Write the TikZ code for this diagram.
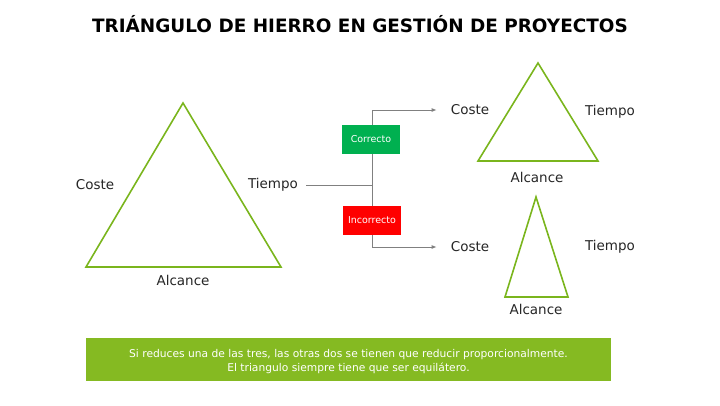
\documentclass[tikz,border=0pt]{standalone}
\usepackage{fontspec}
\setmainfont{DejaVu Sans}
\usetikzlibrary{arrows.meta}
\definecolor{trigreen}{HTML}{7AB51D}
\definecolor{bargreen}{HTML}{85BA22}
\definecolor{okgreen}{HTML}{00B050}
\definecolor{badred}{HTML}{FF0000}
\tikzset{
  tri/.style={draw=trigreen, line width=1.6pt, line join=miter},
  lbl/.style={text=black!85, font=\fontsize{13.5}{15}\selectfont, inner sep=0pt},
  link/.style={draw=gray, line width=0.9pt},
  flag/.style={text=white, font=\fontsize{9.5}{11}\selectfont, minimum width=58pt, minimum height=29pt, inner sep=0pt},
}

\begin{document}
\begin{tikzpicture}[x=1pt, y=-1pt]
    \useasboundingbox (0,0) rectangle (720,405);

    % coordinates to be reused
    \coordinate (A) at (183,103);
    \coordinate (B) at (86,267);
    \coordinate (C) at (281,267);
    \coordinate (A1) at (538,63);
    \coordinate (B1) at (478,161);
    \coordinate (C1) at (598,161);
    \coordinate (A2) at (536,197);
    \coordinate (B2) at (505,297);
    \coordinate (C2) at (568,297);
    \coordinate (J) at (372,185);
    \coordinate (Jup) at (372,110);
    \coordinate (Jdown) at (372,247);

    % title
    \node [font=\bfseries\fontsize{18.4}{20}\selectfont] (title) at (360,24) {TRIÁNGULO DE HIERRO EN GESTIÓN DE PROYECTOS};

    % draw triangles
    \draw [tri] (A) -- (B) -- (C) -- cycle;
    \draw [tri] (A1) -- (B1) -- (C1) -- cycle;
    \draw [tri] (A2) -- (B2) -- (C2) -- cycle;

    % add labels
    \node [lbl] (coste) at (95,185) {Coste};
    \node [lbl] (tiempo) at (273,185) {Tiempo};
    \node [lbl] (alcance) at (183,280) {Alcance};
    \node [lbl] (coste1) at (470,110) {Coste};
    \node [lbl] (tiempo1) at (610,112) {Tiempo};
    \node [lbl] (alcance1) at (537,177) {Alcance};
    \node [lbl] (coste2) at (470,247) {Coste};
    \node [lbl] (tiempo2) at (610,247) {Tiempo};
    \node [lbl] (alcance2) at (536,309) {Alcance};

    % connectors
    \draw [link] ([xshift=8pt]tiempo.east) -- (J);
    \draw [link] (Jdown) -- (Jup);
    \draw [link, -{Latex[length=5pt,width=4pt]}] (Jup) -- ([xshift=-14pt]coste1.west);
    \draw [link, -{Latex[length=5pt,width=4pt]}] (Jdown) -- ([xshift=-14pt]coste2.west);

    % boxes on the line
    \node [flag, fill=okgreen] (ok) at (371,139) {Correcto};
    \node [flag, fill=badred] (bad) at (372,220) {Incorrecto};

    % note at the bottom
    \node [fill=bargreen, minimum width=525pt, minimum height=43pt] (note) at (348.5,359.5) {};
    \node [text=white, align=center, font=\fontsize{10.7}{13.5}\selectfont] (notetext) at (348.5,361.5)
      {Si reduces una de las tres, las otras dos se tienen que reducir proporcionalmente.\\
       El triangulo siempre tiene que ser equilátero.};
\end{tikzpicture}
\end{document}
